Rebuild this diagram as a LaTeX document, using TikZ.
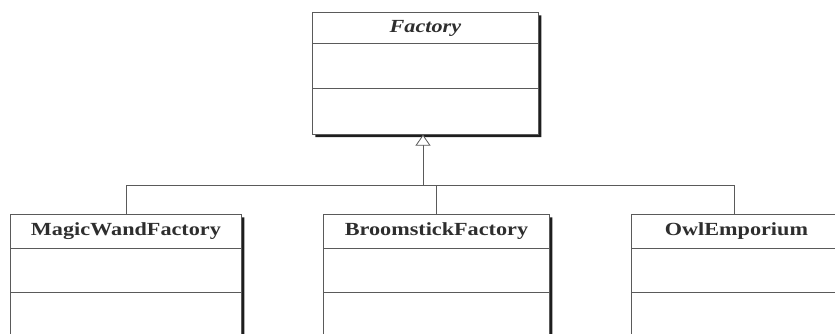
\documentclass[tikz,border=0pt]{standalone}
\usepackage{fontspec}
\setmainfont{Liberation Serif}[FakeStretch=1.2]
\usepackage{tikz}
\usetikzlibrary{arrows.meta,shapes.multipart,shadows,positioning}

\definecolor{umlline}{HTML}{5A5A5A}
\definecolor{umltext}{HTML}{2E2E2E}
\definecolor{umlshadow}{HTML}{1E1E1E}

\tikzset{
    umlclass/.style = {rectangle split, rectangle split parts=3, draw=umlline,
        line width=0.9pt, fill=white, inner xsep=0pt, inner ysep=0pt,
        align=center, anchor=north west, text=umltext,
        font=\fontsize{18.5}{21}\selectfont\bfseries,
        drop shadow={shadow xshift=3pt, shadow yshift=-3pt,
            fill=umlshadow, opacity=1}},
    inherit/.style = {draw=umlline, line width=0.8pt}
}

\begin{document}
\begin{tikzpicture}[x=1pt, y=-1pt]
    \useasboundingbox (0,0) rectangle (835,334);
    \clip (0,0) rectangle (835,334);

    \node [umlclass, text width=226pt] (factory) at (312,12)
        {\rule[-10pt]{0pt}{30pt}\textit{Factory}
         \nodepart{two}\rule{0pt}{44pt}
         \nodepart{three}\rule{0pt}{45pt}};

    \node [umlclass, text width=231pt] (wand) at (10,214)
        {\rule[-12pt]{0pt}{33pt}MagicWandFactory
         \nodepart{two}\rule{0pt}{43pt}
         \nodepart{three}\rule{0pt}{48pt}};
    \node [umlclass, text width=226pt] (broom) at (323,214)
        {\rule[-12pt]{0pt}{33pt}BroomstickFactory
         \nodepart{two}\rule{0pt}{43pt}
         \nodepart{three}\rule{0pt}{48pt}};
    \node [umlclass, text width=226pt] (owl) at (631,214)
        {\rule[-12pt]{0pt}{33pt}\hspace*{-16pt}OwlEmporium
         \nodepart{two}\rule{0pt}{43pt}
         \nodepart{three}\rule{0pt}{48pt}};

    % generalisation
    \coordinate (join) at (423,185.5);
    \draw [inherit, -{Triangle[open, length=11pt, width=15pt, line width=0.8pt, fill=white]}]
        (join) -- (join |- factory.south);
    \draw [inherit] (wand.north) |- (join) -| ([xshift=-10pt]owl.north);
    \draw [inherit] (broom.north) |- (join);
\end{tikzpicture}
\end{document}
